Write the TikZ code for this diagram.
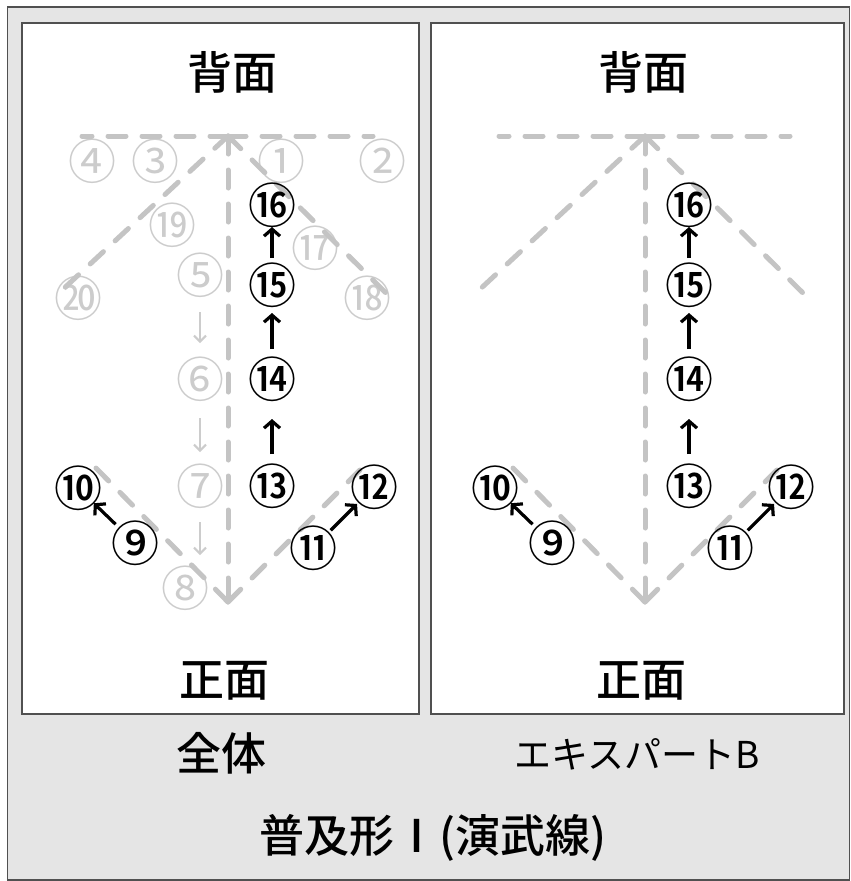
\documentclass[tikz,border=0pt]{standalone}
\usepackage{fontspec}
\setmainfont{Noto Sans CJK JP}[BoldFont={Noto Sans CJK JP Medium}]
\usetikzlibrary{arrows.meta}
\definecolor{dashc}{HTML}{C4C4C4}
\definecolor{ghost}{HTML}{CCCCCC}
\definecolor{bgc}{HTML}{E5E5E5}
\definecolor{framec}{HTML}{505050}
\tikzset{
  panel/.style={draw=framec, fill=white, line width=1.3pt},
  dline/.style={draw=dashc, line width=5pt, line cap=round, dash pattern=on 18pt off 16pt},
  bn/.style={inner sep=0pt, text=black, font=\fontsize{48}{48}\selectfont\bfseries},
  gn/.style={inner sep=0pt, text=ghost, font=\fontsize{48}{48}\selectfont},
  arr/.style={line width=3.2pt, -{Straight Barb[length=7pt,width=16pt]}},
  garr/.style={draw=ghost, line width=2pt, -{Straight Barb[length=6pt,width=12pt]}},
  big/.style={inner sep=0pt, font=\fontsize{45}{45}\selectfont\bfseries},
  mid/.style={inner sep=0pt, font=\fontsize{37}{37}\selectfont},
}
\newcommand{\seqset}[1]{%
  \coordinate (#1apex) at (228,136);
  \coordinate (#1hl) at (82,136);
  \coordinate (#1hr) at (373,136);
  \coordinate (#1dl) at (60,292);
  \coordinate (#1dr) at (390,297);
  \coordinate (#1bot) at (228,602);
  \coordinate (#1vl) at (90,462);
  \coordinate (#1vr) at (360,470);
  \draw[dline] (#1apex) -- (#1hl);
  \draw[dline] (#1apex) -- (#1hr);
  \draw[dline] (#1apex) -- (#1dl);
  \draw[dline] (#1apex) -- (#1dr);
  \draw[dline] (#1apex) -- (#1bot);
  \draw[dline] (#1bot) -- (#1vl);
  \draw[dline] (#1bot) -- (#1vr);
  \node[bn] (#1n9) at (135,543) {⑨};
  \node[bn] (#1n10) at (78,488) {⑩};
  \node[bn] (#1n11) at (313,548) {⑪};
  \node[bn] (#1n12) at (374,487) {⑫};
  \node[bn] (#1n13) at (272,486) {⑬};
  \node[bn] (#1n14) at (272,379) {⑭};
  \node[bn] (#1n15) at (272,285) {⑮};
  \node[bn] (#1n16) at (272,205) {⑯};
  \draw[arr, shorten <=27pt, shorten >=22pt] (#1n9.center) -- (#1n10.center);
  \draw[arr, shorten <=25pt, shorten >=24pt] (#1n11.center) -- (#1n12.center);
  \draw[arr, shorten <=32pt, shorten >=40pt] (#1n13.center) -- (#1n14.center);
  \draw[arr, shorten <=30pt, shorten >=28pt] (#1n14.center) -- (#1n15.center);
  \draw[arr, shorten <=27pt, shorten >=22pt] (#1n15.center) -- (#1n16.center);
}
\begin{document}
\begin{tikzpicture}[x=1pt,y=-1pt]
  \useasboundingbox (0,0) rectangle (851,881);
  \draw[draw=framec, fill=bgc, line width=1.5pt] (7.5,7) rectangle (849.5,880);
  \draw[panel] (22,23) rectangle (419,714);
  \draw[panel] (431,23) rectangle (844,714);
  % ghost (left panel only)
  \node[gn] (g1) at (281,161) {①};
  \node[gn] (g2) at (382,161) {②};
  \node[gn] (g3) at (155,161) {③};
  \node[gn] (g4) at (92,161) {④};
  \node[gn] (g5) at (200,275) {⑤};
  \node[gn] (g6) at (200,379) {⑥};
  \node[gn] (g7) at (200,486) {⑦};
  \node[gn] (g8) at (185,588) {⑧};
  \node[gn] (g17) at (315,248) {⑰};
  \node[gn] (g18) at (367,298) {⑱};
  \node[gn] (g19) at (172,225) {⑲};
  \node[gn] (g20) at (78,298) {⑳};
  \draw[garr, shorten <=37pt, shorten >=36pt] (g5.center) -- (g6.center);
  \draw[garr, shorten <=39pt, shorten >=34pt] (g6.center) -- (g7.center);
  \draw[garr, shorten <=36pt, shorten >=33pt] (g7.center) -- (g7 |- g8);
  \seqset{L}
  \begin{scope}[xshift=417pt]
    \seqset{R}
  \end{scope}
  % labels
  \node[big] (tL) at (232,72) {背面};
  \node[big] (tR) at (643,72) {背面};
  \node[big] (fL) at (224,681) {正面};
  \node[big] (fR) at (641,681) {正面};
  \node[big] (capL) at (221,753) {全体};
  \node[mid] (capR) at (637,754) {エキスパートB};
  \node[big] (title) at (433,838) {普及形Ⅰ(演武線)};
\end{tikzpicture}
\end{document}
